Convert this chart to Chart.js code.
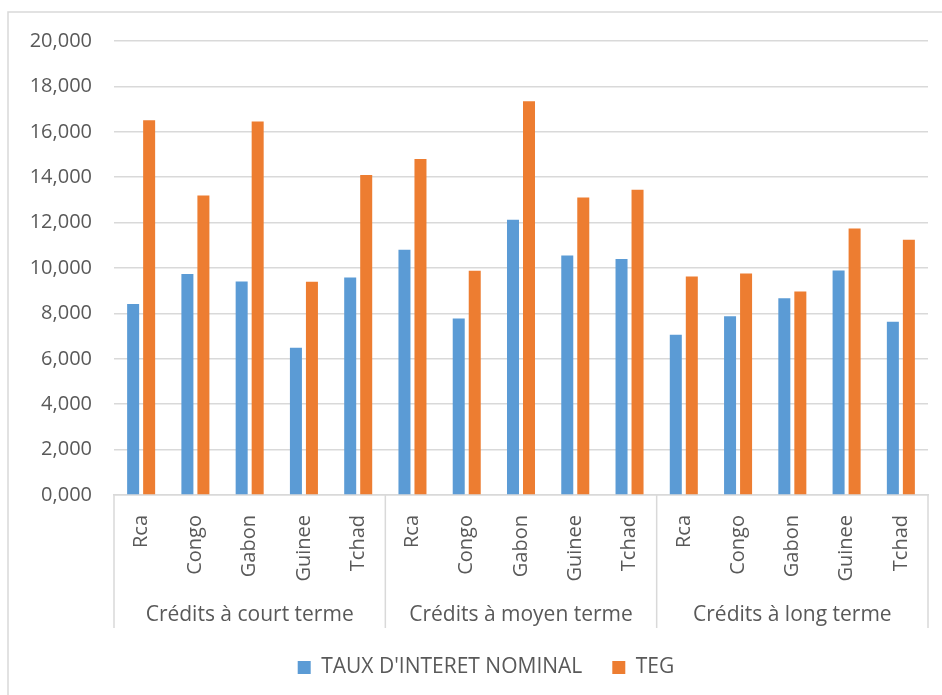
<!DOCTYPE html>
<html lang="fr">
<head>
  <meta charset="UTF-8">
  <title>Taux d'intérêt nominal et TEG</title>
  <script src="https://cdn.jsdelivr.net/npm/chart.js"></script>
  <style>
    html, body { margin: 0; padding: 0; background: #fff; overflow: hidden; }
    #wrap { width: 942px; height: 695px; }
  </style>
</head>
<body>
<div id="wrap"><canvas id="tauxChart"></canvas></div>

<script>
const groups = ["Crédits à court terme", "Crédits à moyen terme", "Crédits à long terme"];
const countries = ["Rca", "Congo", "Gabon", "Guinee", "Tchad"];
const tauxNominal = [8.41, 9.74, 9.41, 6.49, 9.58, 10.80, 7.78, 12.13, 10.55, 10.40, 7.06, 7.87, 8.67, 9.89, 7.63];
const teg = [16.51, 13.19, 16.45, 9.39, 14.10, 14.80, 9.88, 17.35, 13.11, 13.45, 9.63, 9.76, 8.97, 11.74, 11.25];
const yTicks = [0, 2, 4, 6, 8, 10, 12, 14, 16, 18, 20];

const labels = groups.flatMap(() => countries);
const gray = '#595959';
const lineGray = '#d9d9d9';

Chart.defaults.font.family = "'Open Sans', sans-serif";
Chart.defaults.color = gray;

// cadre extérieur + libellés de groupes sous l'axe
const groupPlugin = {
  id: 'groups',
  beforeDraw(chart) {
    const ctx = chart.ctx;
    ctx.save();
    ctx.strokeStyle = lineGray;
    ctx.lineWidth = 1.5;
    ctx.strokeRect(8, 12, 1000, 1000);
    ctx.restore();
    // légende un peu décalée comme dans Excel
    const lg = chart.legend;
    if (lg && !lg._moved) {
      lg.left += 17; lg.right += 17;
      lg.top -= 7; lg.bottom -= 7;
      lg._moved = true;
    }
  },
  afterDraw(chart) {
    const { ctx, chartArea } = chart;
    const x = chart.scales.x;
    const edges = [chartArea.left];
    for (let g = 1; g < groups.length; g++) {
      const i = g * countries.length;
      edges.push((x.getPixelForValue(i - 1) + x.getPixelForValue(i)) / 2);
    }
    edges.push(chartArea.right);
    const lineEnd = x.top + 133;
    ctx.save();
    ctx.strokeStyle = lineGray;
    ctx.lineWidth = 1.5;
    edges.forEach(px => {
      ctx.beginPath();
      ctx.moveTo(px, x.top);
      ctx.lineTo(px, lineEnd);
      ctx.stroke();
    });
    ctx.fillStyle = gray;
    ctx.font = "21px 'Open Sans', sans-serif";
    ctx.textAlign = 'center';
    ctx.textBaseline = 'middle';
    groups.forEach((g, k) => ctx.fillText(g, (edges[k] + edges[k + 1]) / 2, lineEnd - 13));
    ctx.restore();
  }
};

new Chart(document.getElementById('tauxChart'), {
  type: 'bar',
  data: {
    labels: labels,
    datasets: [
      { label: "TAUX D'INTERET NOMINAL", data: tauxNominal, backgroundColor: '#5B9BD5' },
      { label: 'TEG', data: teg, backgroundColor: '#ED7D31' }
    ]
  },
  options: {
    responsive: true,
    maintainAspectRatio: false,
    animation: false,
    categoryPercentage: 0.59,
    barPercentage: 0.75,
    layout: { padding: { top: 41, left: 10, right: 14, bottom: 0 } },
    plugins: {
      tooltip: { enabled: false },
      legend: {
        position: 'bottom',
        labels: { boxWidth: 13, boxHeight: 13, padding: 30, font: { size: 21 }, color: gray }
      }
    },
    scales: {
      x: {
        grid: { display: false },
        border: { display: true, color: lineGray, width: 1.5 },
        ticks: { minRotation: 90, maxRotation: 90, autoSkip: false, padding: 12, font: { size: 20 }, color: gray },
        afterFit: scale => { scale.height = 139; }
      },
      y: {
        min: 0,
        max: 20,
        afterBuildTicks: scale => { scale.ticks = yTicks.map(v => ({ value: v })); },
        grid: { color: lineGray, lineWidth: 1.5, drawTicks: false },
        border: { display: false },
        ticks: {
          padding: 22,
          font: { size: 20 },
          color: gray,
          callback: v => v.toFixed(3).replace('.', ',')
        },
        afterFit: scale => { scale.width = 104; }
      }
    }
  },
  plugins: [groupPlugin]
});
</script>
</body>
</html>
